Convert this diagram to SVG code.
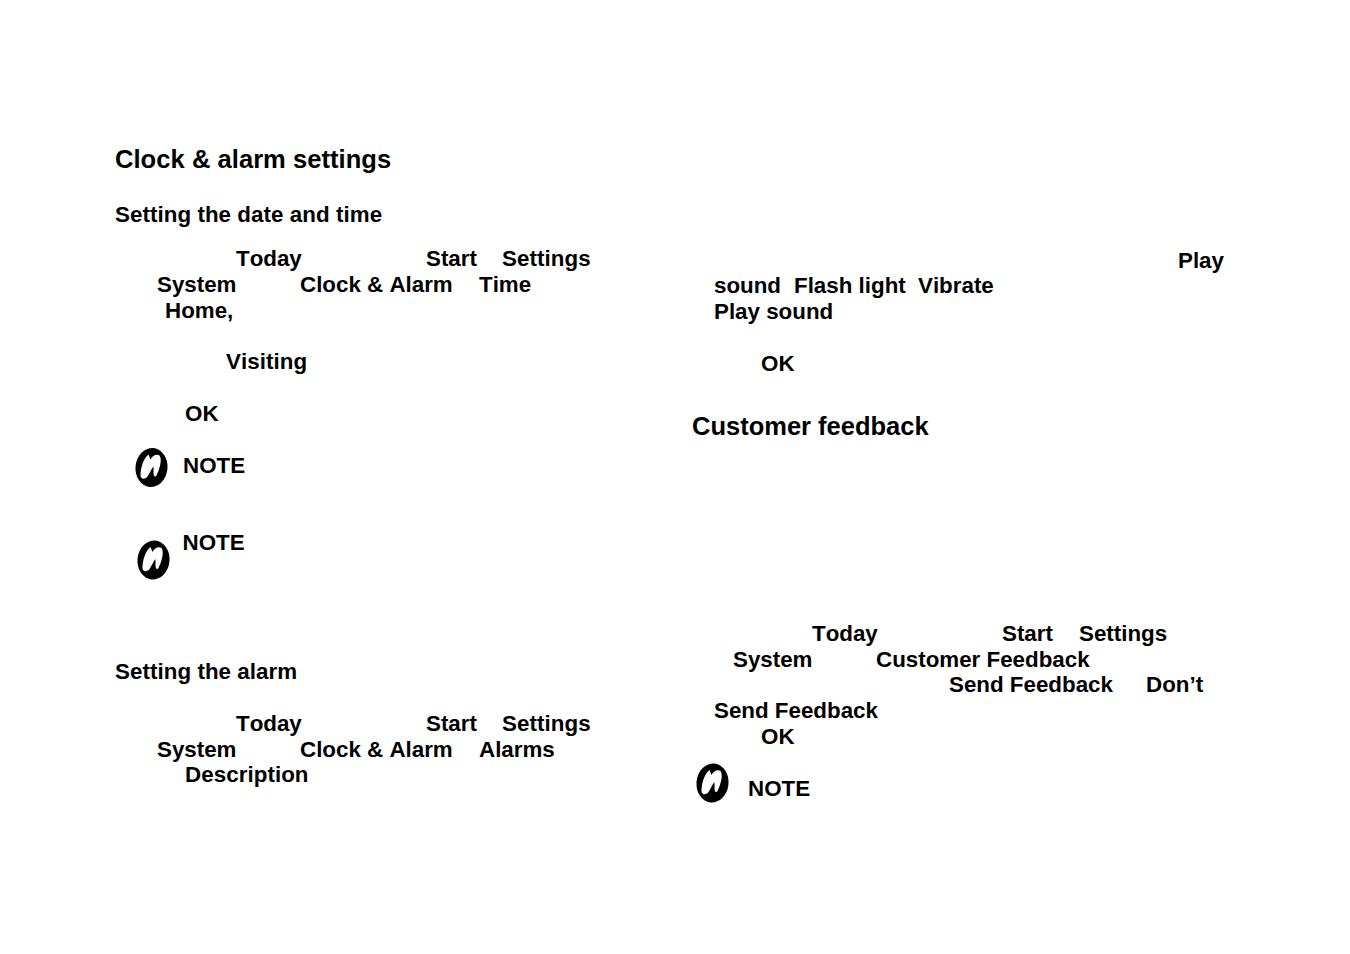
<svg xmlns="http://www.w3.org/2000/svg" width="1350" height="954" viewBox="0 0 1350 954">
<style>
text{font-family:"Liberation Sans",Arial,sans-serif;font-weight:700;fill:#000;font-size:22.35px;font-kerning:none}
.h{font-size:25.5px}
.w{letter-spacing:.06px}
</style>
<defs>
<filter id="soft" x="-20%" y="-20%" width="140%" height="140%"><feGaussianBlur stdDeviation="0.7"/></filter>
<g id="n" filter="url(#soft)">
<ellipse cx="0" cy="0" rx="16" ry="19.5" fill="#000" transform="rotate(6)"/>
<path d="M-11 8C-11 0-8-9-3-13L-1-8C1-12 5-14 8-12C11-8 8 2 5 8C4 10 2 9 2 6L2-1C0 1-2 6-4 9C-6 12-11 12-11 8Z" fill="#fff"/>
</g>
</defs>
<rect width="1350" height="954" fill="#fff"/>
<g id="left-column">
<text class="h w" x="115" y="168">Clock &amp; alarm settings</text>
<text class="w" x="115" y="222">Setting the date and time</text>
<text x="236" y="266">Today</text><text x="426" y="266">Start</text><text class="w" x="502" y="266">Settings</text>
<text x="157" y="292">System</text><text x="300" y="292">Clock &amp; Alarm</text><text x="479" y="292">Time</text>
<text x="165" y="318">Home,</text>
<text class="w" x="226" y="369">Visiting</text>
<text x="185" y="421">OK</text>
<text x="183" y="473">NOTE</text>
<text x="182.5" y="550">NOTE</text>
<text class="w" x="115" y="679">Setting the alarm</text>
<text x="236" y="731">Today</text><text x="426" y="731">Start</text><text class="w" x="502" y="731">Settings</text>
<text x="157" y="757">System</text><text x="300" y="757">Clock &amp; Alarm</text><text x="479" y="757">Alarms</text>
<text class="w" x="185" y="782">Description</text>
</g>
<g id="right-column">
<text x="1178" y="268">Play</text>
<text x="714" y="293">sound</text><text x="794" y="293">Flash light</text><text x="918" y="293">Vibrate</text>
<text x="714" y="319">Play sound</text>
<text x="761" y="371">OK</text>
<text class="h" x="692" y="435">Customer feedback</text>
<text x="812" y="641">Today</text><text x="1002" y="641">Start</text><text x="1079" y="641">Settings</text>
<text x="733" y="667">System</text><text x="876" y="667">Customer Feedback</text>
<text x="949" y="692">Send Feedback</text><text x="1146" y="692">Don’t</text>
<text x="714" y="718">Send Feedback</text>
<text x="761" y="744">OK</text>
<text x="748" y="796">NOTE</text>
</g>
<g id="note-icons">
<use href="#n" x="151.5" y="467.5"/>
<use href="#n" x="153.5" y="560"/>
<use href="#n" x="712.5" y="783"/>
</g>
</svg>
